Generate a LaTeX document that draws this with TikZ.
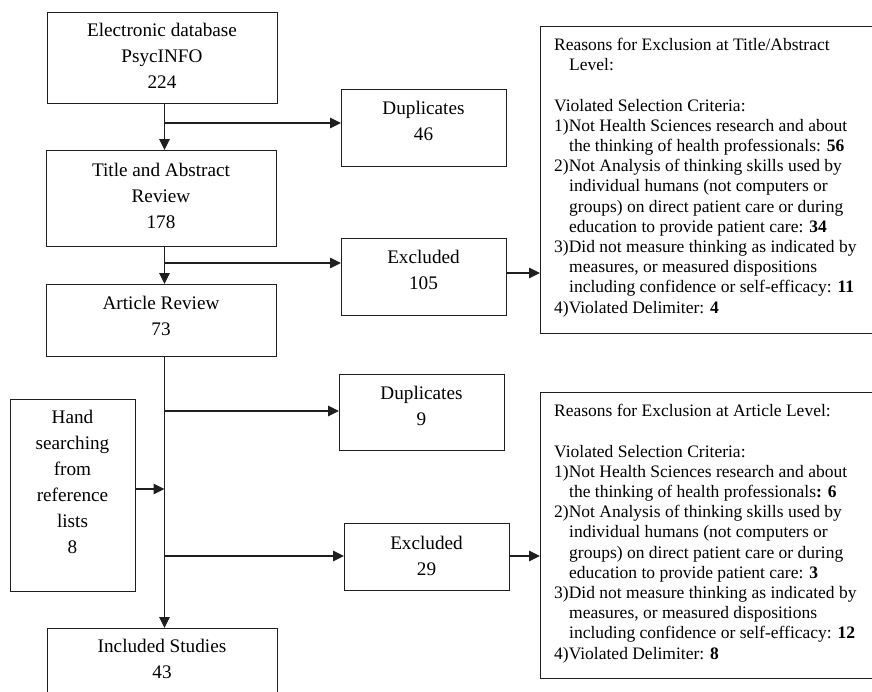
\documentclass[tikz,border=0pt]{standalone}
\usepackage{fontspec}
\setmainfont{Liberation Serif}
\usetikzlibrary{arrows.meta}
\begin{document}
\begin{tikzpicture}[x=1pt,y=-1pt,
  frame/.style={draw=black!88,line width=1.1pt,rectangle,inner sep=0pt,anchor=north west},
  lbl/.style={align=center,anchor=base,inner sep=0pt,font=\fontsize{19.2}{26}\selectfont},
  note/.style={align=left,anchor=base west,inner sep=0pt,font=\fontsize{17.5}{20.2}\selectfont},
  flow/.style={draw=black!88,line width=1.1pt,-{Triangle[length=11pt,width=10.5pt]}},
  link/.style={draw=black!88,line width=1.1pt}]
\clip (0,0) rectangle (872,691);
\fill[white] (0,0) rectangle (872,691);

% main column (labels anchored at the baseline of their last line)
\node[frame,minimum width=230pt,minimum height=91pt] (db) at (47,12) {};
\node[lbl] (dbt) at (162,88) {Electronic database\\PsycINFO\\224};
\node[frame,minimum width=230pt,minimum height=96pt] (tar) at (46,150) {};
\node[lbl] (tart) at (161,228) {Title and Abstract\\Review\\178};
\node[frame,minimum width=230pt,minimum height=72pt] (art) at (46,284) {};
\node[lbl] (artt) at (161,335) {Article Review\\73};
\node[frame,minimum width=125pt,minimum height=192pt] (hand) at (10,399) {};
\node[lbl] (handt) at (72.5,553) {Hand\\searching\\from\\reference\\lists\\8};
\node[frame,minimum width=230pt,minimum height=74pt] (inc) at (47,628) {};
\node[lbl] (inct) at (162,678) {Included Studies\\43};

% side boxes
\node[frame,minimum width=165pt,minimum height=77pt] (dup1) at (341,89) {};
\node[lbl] (dup1t) at (423.5,140) {Duplicates\\46};
\node[frame,minimum width=165pt,minimum height=77pt] (exc1) at (341,238) {};
\node[lbl] (exc1t) at (423.5,289) {Excluded\\105};
\node[frame,minimum width=165pt,minimum height=76pt] (dup2) at (339,374) {};
\node[lbl] (dup2t) at (421.5,425) {Duplicates\\9};
\node[frame,minimum width=165pt,minimum height=67pt] (exc2) at (344,523) {};
\node[lbl] (exc2t) at (426.5,575) {Excluded\\29};

% reasons boxes, open past the right edge
\node[frame,minimum width=360pt,minimum height=307pt] (r1) at (540,26) {};
\node[note] (r1t) at (554,313) {Reasons for Exclusion at Title/Abstract\\
\hspace*{15pt}Level:\\[20.2pt]
Violated Selection Criteria:\\
1)Not Health Sciences research and about\\
\hspace*{15pt}the thinking of health professionals: \textbf{56}\\
2)Not Analysis of thinking skills used by\\
\hspace*{15pt}individual humans (not computers or\\
\hspace*{15pt}groups) on direct patient care or during\\
\hspace*{15pt}education to provide patient care: \textbf{34}\\
3)Did not measure thinking as indicated by\\
\hspace*{15pt}measures, or measured dispositions\\
\hspace*{15pt}including confidence or self-efficacy: \textbf{11}\\
4)Violated Delimiter: \textbf{4}};
\node[frame,minimum width=360pt,minimum height=286pt] (r2) at (540,392) {};
\node[note] (r2t) at (554,659) {Reasons for Exclusion at Article Level:\\[20.2pt]
Violated Selection Criteria:\\
1)Not Health Sciences research and about\\
\hspace*{15pt}the thinking of health professionals\textbf{: 6}\\
2)Not Analysis of thinking skills used by\\
\hspace*{15pt}individual humans (not computers or\\
\hspace*{15pt}groups) on direct patient care or during\\
\hspace*{15pt}education to provide patient care: \textbf{3}\\
3)Did not measure thinking as indicated by\\
\hspace*{15pt}measures, or measured dispositions\\
\hspace*{15pt}including confidence or self-efficacy: \textbf{12}\\
4)Violated Delimiter: \textbf{8}};

% spine and branch points
\coordinate (sp) at (164.5,0);
\coordinate (b1) at (164.5,123);
\coordinate (b2) at (164.5,263);
\coordinate (b3) at (164.5,411);
\coordinate (b4) at (164.5,556);
\coordinate (h1) at (164.5,489);
\coordinate (e1) at (0,273);
\coordinate (e2) at (0,556);

\draw[flow] (db.south -| sp) -- (tar.north -| sp);
\draw[flow] (tar.south -| sp) -- (art.north -| sp);
\draw[flow] (art.south -| sp) -- (inc.north -| sp);
\draw[flow] (b1) -- (b1 -| dup1.west);
\draw[flow] (b2) -- (b2 -| exc1.west);
\draw[flow] (b3) -- (b3 -| dup2.west);
\draw[flow] (b4) -- (b4 -| exc2.west);
\draw[flow] (h1 -| hand.east) -- (h1);
\draw[flow] (e1 -| exc1.east) -- (e1 -| r1.west);
\draw[flow] (e2 -| exc2.east) -- (e2 -| r2.west);
\end{tikzpicture}
\end{document}
